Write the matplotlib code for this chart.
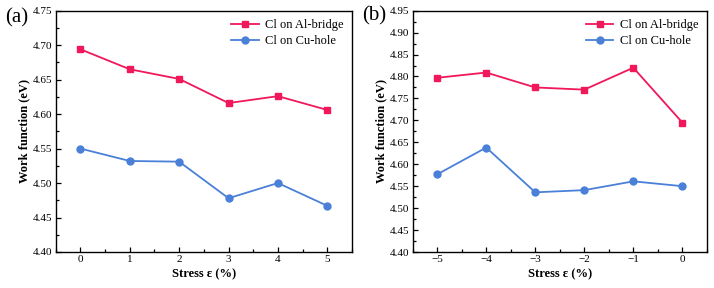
import matplotlib
matplotlib.use("Agg")
import matplotlib.pyplot as plt
from matplotlib.ticker import MultipleLocator, AutoMinorLocator, FormatStrFormatter

plt.rcParams['font.family'] = ['Liberation Serif', 'DejaVu Serif']

# panel (a): positive stress
stress_a = [0, 1, 2, 3, 4, 5]
al_bridge_a = [4.694, 4.665, 4.651, 4.616, 4.626, 4.606]
cu_hole_a = [4.550, 4.532, 4.531, 4.478, 4.500, 4.467]

# panel (b): negative stress
stress_b = [-5, -4, -3, -2, -1, 0]
al_bridge_b = [4.797, 4.809, 4.775, 4.770, 4.820, 4.695]
cu_hole_b = [4.577, 4.638, 4.536, 4.541, 4.561, 4.550]

red = "#f0175a"
blue = "#4a80d8"

fig = plt.figure(figsize=(7.14, 2.88), dpi=100)
ax_a = fig.add_axes([0.078, 0.125, 0.415, 0.838])
ax_b = fig.add_axes([0.578, 0.125, 0.412, 0.838])


def style(ax, xs, al, cu, ylim):
    ax.plot(xs, al, color=red, marker="s", markersize=5, lw=1.3, label="Cl on Al-bridge")
    ax.plot(xs, cu, color=blue, marker="o", markersize=5, lw=1.3, label="Cl on Cu-hole")
    ax.set_xlim(min(xs) - 0.5, max(xs) + 0.5)
    ax.set_ylim(*ylim)
    ax.set_xticks(xs)
    ax.set_xticklabels([str(x).replace("-", "\u2212") for x in xs])
    ax.yaxis.set_major_locator(MultipleLocator(0.05))
    ax.yaxis.set_major_formatter(FormatStrFormatter("%.2f"))
    ax.xaxis.set_minor_locator(AutoMinorLocator(2))
    ax.yaxis.set_minor_locator(AutoMinorLocator(2))
    ax.tick_params(which="both", direction="in", top=False, right=False,
                   labelsize=8, pad=2.5)
    ax.tick_params(which="major", length=3.5, width=0.9)
    ax.tick_params(which="minor", length=2, width=0.9)
    for s in ax.spines.values():
        s.set_linewidth(1.0)
    ax.set_xlabel("Stress \u03b5 (%)", fontsize=9, fontweight="bold", labelpad=3)
    ax.set_ylabel("Work function (eV)", fontsize=9, fontweight="bold", labelpad=2)
    ax.legend(loc="upper right", frameon=False, fontsize=9, handlelength=2.2,
              borderaxespad=0.3, labelspacing=0.3, handletextpad=0.5)


style(ax_a, stress_a, al_bridge_a, cu_hole_a, (4.40, 4.75))
style(ax_b, stress_b, al_bridge_b, cu_hole_b, (4.40, 4.95))

fig.text(5 / 714, 1 - 8 / 288, "(a)", fontsize=15, va="top", ha="left")
fig.text(362 / 714, 1 - 6 / 288, "(b)", fontsize=15, va="top", ha="left")

fig.savefig("out.png", dpi=100)
